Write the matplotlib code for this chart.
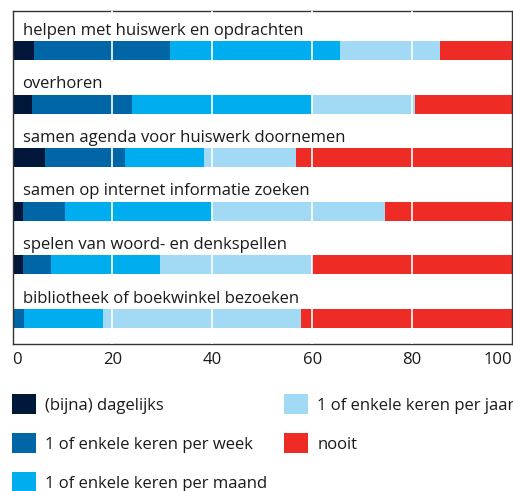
import matplotlib.pyplot as plt
import numpy as np

activities = [
    'helpen met huiswerk en opdrachten',
    'overhoren',
    'samen agenda voor huiswerk doornemen',
    'samen op internet informatie zoeken',
    'spelen van woord- en denkspellen',
    'bibliotheek of boekwinkel bezoeken',
]
categories = [
    '(bijna) dagelijks',
    '1 of enkele keren per week',
    '1 of enkele keren per maand',
    '1 of enkele keren per jaar',
    'nooit',
]
daily = [4.3, 3.9, 6.5, 2.1, 2.1, 0.0]
weekly = [27.2, 20.0, 16.0, 8.4, 5.6, 2.3]
monthly = [34.0, 36.1, 15.9, 29.4, 21.8, 15.8]
yearly = [20.0, 20.5, 18.3, 34.6, 30.5, 39.6]
never = [14.5, 19.5, 43.3, 25.5, 40.0, 42.3]
colors = ['#01173a', '#0066a6', '#00aeef', '#a2daf5', '#ee2b24']

plt.rcParams['font.family'] = ['Open Sans', 'DejaVu Sans']
text_color = '#1a1a1a'

fig = plt.figure(figsize=(5.13, 4.91), dpi=100)
ax = fig.add_axes([0.0244, 0.2994, 0.9736, 0.6782])

y = np.arange(len(activities))
left = np.zeros(len(activities))
bars = []
for vals, col, cat in zip([daily, weekly, monthly, yearly, never], colors, categories):
    b = ax.barh(y, vals, left=left, height=0.355, color=col, label=cat, zorder=2)
    bars.append(b)
    left = left + np.array(vals)

for xv in [20, 40, 60, 80]:
    ax.axvline(xv, color='white', linewidth=1.2, zorder=3)

for i, name in enumerate(activities):
    ax.text(2.0, i - 0.37, name, va='center', ha='left', fontsize=12, color=text_color)

ax.set_xlim(0, 100)
ax.set_ylim(5.476, -0.737)
ax.set_yticks([])
ax.set_xticks([0, 20, 40, 60, 80, 100])
ax.tick_params(axis='x', length=0, pad=6, labelsize=12, labelcolor=text_color)
ax.get_xticklabels()[-1].set_horizontalalignment('right')
ax.get_xticklabels()[0].set_horizontalalignment('left')
for s in ax.spines.values():
    s.set_color('#333333')
    s.set_linewidth(1)

fig.legend(handles=bars, labels=categories, ncol=2, loc='upper left',
           bbox_to_anchor=(0.023, 0.197), frameon=False, fontsize=12,
           handlelength=1.45, handleheight=1.45, handletextpad=0.55,
           columnspacing=1.0, labelspacing=1.15, labelcolor=text_color,
           borderaxespad=0, borderpad=0)

fig.savefig('out.png', dpi=100)
